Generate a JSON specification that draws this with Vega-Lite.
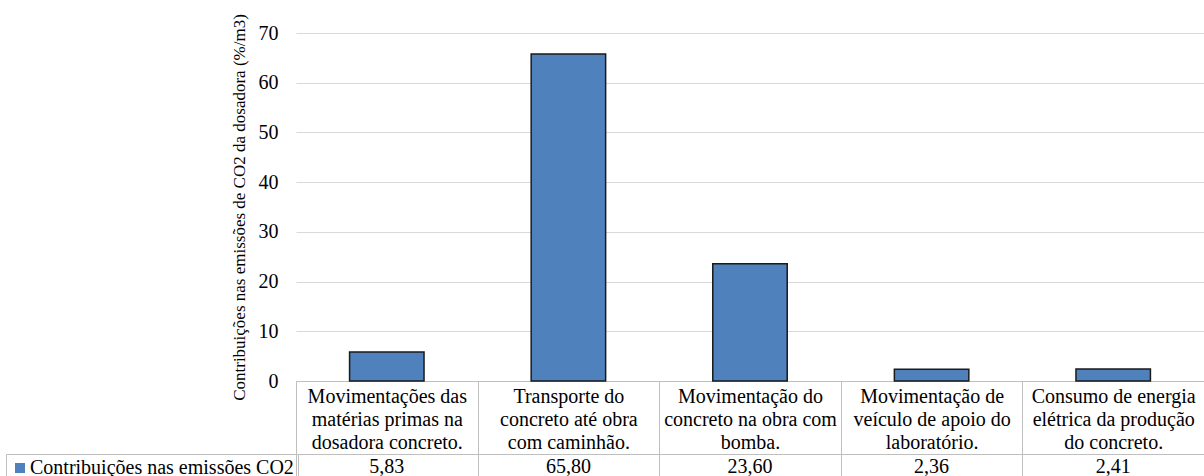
{
  "$schema": "https://vega.github.io/schema/vega-lite/v6.json",
  "width": 908,
  "height": 348,
  "autosize": {"type": "none"},
  "padding": {"left": 296, "top": 33, "right": 0, "bottom": 95},
  "background": "white",
  "config": {
    "font": "Liberation Serif",
    "view": {"stroke": null},
    "style": {"guide-label": {"font": "Liberation Serif"}, "guide-title": {"font": "Liberation Serif"}},
    "axis": {"labelFont": "Liberation Serif", "titleFont": "Liberation Serif", "labelColor": "black", "titleColor": "black", "titleFontWeight": "normal"},
    "legend": {"labelFont": "Liberation Serif", "titleFont": "Liberation Serif"}
  },
  "data": {
    "values": [
      {"categoria": "Movimentações das\nmatérias primas na\ndosadora concreto.", "valor": 5.83, "valor_texto": "5,83", "serie": "Contribuições nas emissões CO2"},
      {"categoria": "Transporte do\nconcreto até obra\ncom caminhão.", "valor": 65.8, "valor_texto": "65,80", "serie": "Contribuições nas emissões CO2"},
      {"categoria": "Movimentação do\nconcreto na obra com\nbomba.", "valor": 23.6, "valor_texto": "23,60", "serie": "Contribuições nas emissões CO2"},
      {"categoria": "Movimentação de\nveículo de apoio do\nlaboratório.", "valor": 2.36, "valor_texto": "2,36", "serie": "Contribuições nas emissões CO2"},
      {"categoria": "Consumo de energia\nelétrica da produção\ndo concreto.", "valor": 2.41, "valor_texto": "2,41", "serie": "Contribuições nas emissões CO2"}
    ]
  },
  "layer": [
    {
      "mark": {"type": "bar", "stroke": "#1a1a1a", "strokeWidth": 1.5, "width": {"band": 0.41}},
      "encoding": {
        "x": {
          "field": "categoria", "type": "nominal", "sort": null,
          "scale": {"paddingInner": 0, "paddingOuter": 0},
          "axis": {
            "orient": "bottom", "title": null,
            "labelExpr": "split(datum.label, '\\n')",
            "labelFont": "Liberation Serif",
            "labelAngle": 0, "labelFontSize": 20, "labelLineHeight": 23,
            "labelLimit": 0, "labelOverlap": false, "labelBaseline": "top",
            "labelPadding": -90,
            "tickBand": "extent", "tickSize": 95, "tickColor": "#bfbfbf", "tickWidth": 1,
            "domainColor": "#bfbfbf", "domainWidth": 1
          }
        },
        "y": {
          "field": "valor", "type": "quantitative",
          "scale": {"domain": [0, 70]},
          "axis": {
            "title": "Contribuições nas emissões de CO2 da dosadora (%/m3)",
            "titleFont": "Liberation Serif",
            "labelFont": "Liberation Serif",
            "titleFontSize": 17, "titlePadding": 10,
            "values": [0, 10, 20, 30, 40, 50, 60, 70],
            "labelFontSize": 20, "labelPadding": 18,
            "ticks": false, "domain": false,
            "gridColor": "#d9d9d9", "gridWidth": 1
          }
        },
        "color": {
          "field": "serie", "type": "nominal",
          "scale": {"range": ["#4f81bd"]},
          "legend": {
            "title": null, "orient": "none", "legendX": -290, "legendY": 421,
            "symbolType": "square", "symbolSize": 100, "symbolStrokeWidth": 0,
            "labelFont": "Liberation Serif",
            "labelFontSize": 20, "labelColor": "black", "labelLimit": 0,
            "labelOffset": 0, "symbolOffset": 0, "padding": 4,
            "strokeColor": "#bfbfbf"
          }
        }
      }
    },
    {
      "mark": {"type": "bar", "opacity": 0},
      "encoding": {
        "x": {
          "field": "valor_texto", "type": "nominal", "sort": null,
          "scale": {"paddingInner": 0, "paddingOuter": 0},
          "axis": {
            "orient": "bottom", "title": null, "offset": 73,
            "labelFont": "Liberation Serif",
            "labelAngle": 0, "labelFontSize": 20, "labelBaseline": "middle",
            "labelPadding": 12, "ticks": false, "labelOverlap": false,
            "domainColor": "#bfbfbf", "domainWidth": 1
          }
        }
      }
    }
  ],
  "resolve": {"scale": {"x": "independent"}, "axis": {"x": "independent"}}
}
